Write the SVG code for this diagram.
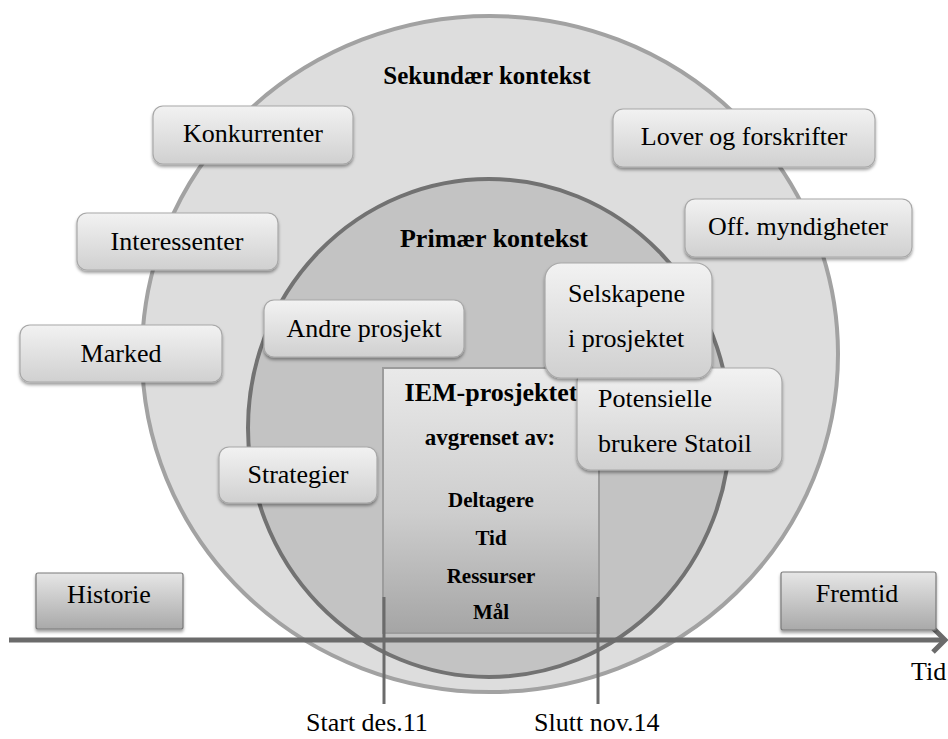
<svg xmlns="http://www.w3.org/2000/svg" width="948" height="739" viewBox="0 0 948 739">
  <defs>
    <linearGradient id="boxGrad" x1="0" y1="0" x2="0" y2="1">
      <stop offset="0" stop-color="#f2f2f2"/>
      <stop offset="1" stop-color="#d0d0d0"/>
    </linearGradient>
    <linearGradient id="timeGrad" x1="0" y1="0" x2="0" y2="1">
      <stop offset="0" stop-color="#e6e6e6"/>
      <stop offset="1" stop-color="#a9a9a9"/>
    </linearGradient>
    <linearGradient id="coreGrad" x1="0" y1="0" x2="0" y2="1">
      <stop offset="0" stop-color="#e9e9e9"/>
      <stop offset="0.55" stop-color="#cdcdcd"/>
      <stop offset="1" stop-color="#a5a5a5"/>
    </linearGradient>
    <filter id="shadow" x="-10%" y="-10%" width="120%" height="130%">
      <feDropShadow dx="0" dy="2.5" stdDeviation="1.6" flood-color="#000" flood-opacity="0.38"/>
    </filter>
  </defs>
  <style>
    .lbl { font-family: "Liberation Serif", "Times New Roman", serif; font-size: 26px; fill: #000; }
    .mid { text-anchor: middle; }
    .ttl { font-family: "Liberation Serif", "Times New Roman", serif; font-weight: bold; fill: #000; text-anchor: middle; }
    .box { fill: url(#boxGrad); stroke: #a8a8a8; stroke-width: 1.2; filter: url(#shadow); }
    .tbox { fill: url(#timeGrad); stroke: #7a7a7a; stroke-width: 1.2; filter: url(#shadow); }
    .axis { stroke: #6b6b6b; fill: none; }
  </style>

  <rect width="948" height="739" fill="#ffffff"/>

  <!-- context rings -->
  <g id="secondary-context">
    <ellipse cx="490" cy="354" rx="348" ry="338" fill="#dddddd" stroke="#a2a2a2" stroke-width="4"/>
    <text class="ttl" x="487" y="84" font-size="25">Sekundær kontekst</text>
  </g>
  <g id="primary-context">
    <ellipse cx="489" cy="428" rx="241" ry="249" fill="#c3c3c3" stroke="#727272" stroke-width="4"/>
    <text class="ttl" x="494" y="247" font-size="26">Primær kontekst</text>
  </g>

  <!-- project box -->
  <g id="iem-project">
    <rect x="383" y="368" width="216" height="265" fill="url(#coreGrad)" stroke="#9c9c9c" stroke-width="2"/>
    <text class="ttl" x="491" y="401" font-size="26">IEM-prosjektet</text>
    <text class="ttl" x="490" y="445" font-size="23">avgrenset av:</text>
    <text class="ttl" x="491" y="507" font-size="21">Deltagere</text>
    <text class="ttl" x="491" y="545" font-size="21">Tid</text>
    <text class="ttl" x="491" y="583" font-size="21">Ressurser</text>
    <text class="ttl" x="491" y="619" font-size="21">Mål</text>
  </g>

  <!-- time axis and project boundaries -->
  <g id="connectors">
    <line class="axis" x1="9" y1="640" x2="943" y2="640" stroke-width="5"/>
    <polyline class="axis" points="933,628 945,640 933,652" stroke-width="5" stroke-linejoin="miter"/>
    <line class="axis" x1="384" y1="597" x2="384" y2="704" stroke-width="3"/>
    <line class="axis" x1="598" y1="597" x2="598" y2="704" stroke-width="3"/>
  </g>

  <g id="tid">
    <text class="lbl" x="911" y="680">Tid</text>
  </g>
  <g id="start">
    <text class="lbl" x="306" y="731">Start des.11</text>
  </g>
  <g id="slutt">
    <text class="lbl" x="534" y="731">Slutt nov.14</text>
  </g>

  <!-- secondary context factors -->
  <g id="konkurrenter">
    <rect class="box" x="153" y="106" width="200" height="58" rx="10"/>
    <text class="lbl mid" x="253" y="142">Konkurrenter</text>
  </g>
  <g id="lover">
    <rect class="box" x="613" y="109" width="262" height="58" rx="10"/>
    <text class="lbl mid" x="744" y="145">Lover og forskrifter</text>
  </g>
  <g id="myndigheter">
    <rect class="box" x="685" y="199" width="227" height="58" rx="10"/>
    <text class="lbl mid" x="798" y="235">Off. myndigheter</text>
  </g>
  <g id="interessenter">
    <rect class="box" x="77" y="213" width="201" height="57" rx="10"/>
    <text class="lbl mid" x="177" y="250">Interessenter</text>
  </g>
  <g id="marked">
    <rect class="box" x="20" y="325" width="202" height="57" rx="10"/>
    <text class="lbl mid" x="121" y="362">Marked</text>
  </g>

  <!-- primary context factors -->
  <g id="andre-prosjekt">
    <rect class="box" x="264" y="300" width="200" height="57" rx="10"/>
    <text class="lbl mid" x="364" y="337">Andre prosjekt</text>
  </g>
  <g id="strategier">
    <rect class="box" x="219" y="447" width="158" height="56" rx="10"/>
    <text class="lbl mid" x="298" y="483">Strategier</text>
  </g>
  <g id="brukere">
    <rect class="box" x="577" y="368" width="205" height="102" rx="14"/>
    <text class="lbl" x="598" y="407">Potensielle</text>
    <text class="lbl" x="598" y="452">brukere Statoil</text>
  </g>
  <g id="selskapene">
    <rect class="box" x="545" y="263" width="167" height="115" rx="16"/>
    <text class="lbl" x="568" y="302">Selskapene</text>
    <text class="lbl" x="568" y="347">i prosjektet</text>
  </g>

  <!-- past and future -->
  <g id="historie">
    <rect class="tbox" x="36" y="573" width="147" height="56" rx="2"/>
    <text class="lbl mid" x="109" y="603">Historie</text>
  </g>
  <g id="fremtid">
    <rect class="tbox" x="781" y="572" width="155" height="58" rx="2"/>
    <text class="lbl mid" x="857" y="602">Fremtid</text>
  </g>
</svg>
